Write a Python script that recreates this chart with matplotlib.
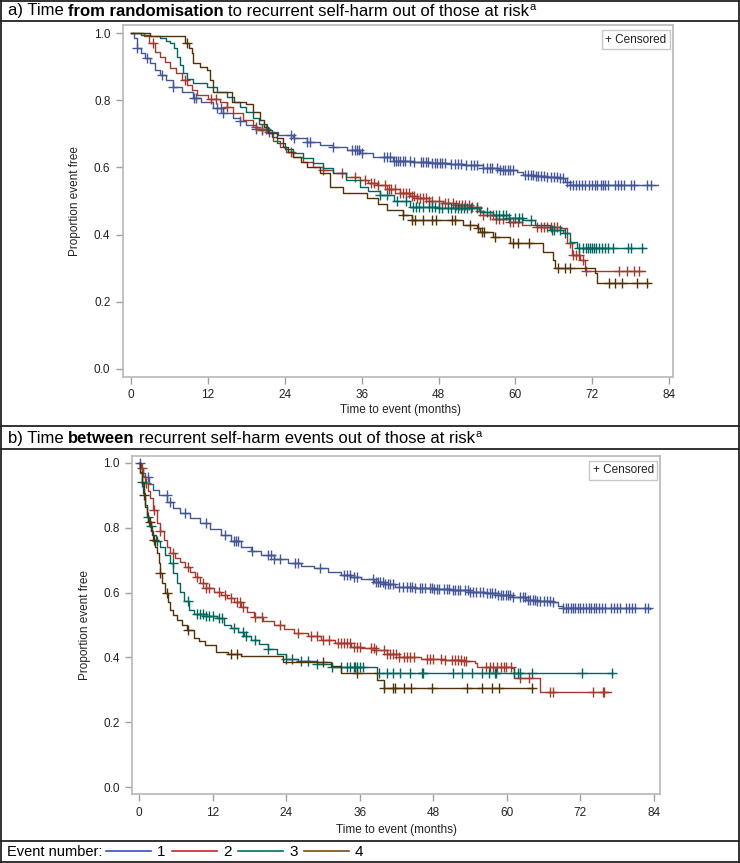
import matplotlib
matplotlib.use('Agg')
import matplotlib.pyplot as plt
import numpy as np

W, H = 740, 863
NARROW = ['Liberation Sans', 'DejaVu Sans']
REGULAR = ['Liberation Sans', 'DejaVu Sans']

groups = ['1', '2', '3', '4']
line_colors = ['#445694', '#A23A2E', '#01665E', '#543005']
legend_colors = ['#3050c0', '#c02828', '#007060', '#7a4a10']
xticks = [0, 12, 24, 36, 48, 60, 72, 84]
yticks = [0.0, 0.2, 0.4, 0.6, 0.8, 1.0]

# ---- panel a: time from randomisation ----
a1_t = [0, 0.5, 0.9, 1.5, 2.2, 3, 3.8, 4.5, 5.5, 6.6, 8, 9.7, 11, 12.8, 14.3, 15.9, 17, 18, 19.5, 21.2,
        23, 25.3, 27.5, 29.5, 31.5, 33.7, 35.7, 37.8, 40.9, 44, 47, 49.8, 52, 54.9, 57.5, 60.2, 61.2, 63,
        65, 66.9, 67.8, 68.5, 82.2]
a1_s = [1.0, 0.985, 0.955, 0.94, 0.925, 0.91, 0.89, 0.875, 0.86, 0.84, 0.825, 0.807, 0.795, 0.777, 0.762,
        0.747, 0.737, 0.726, 0.715, 0.705, 0.697, 0.687, 0.677, 0.667, 0.66, 0.652, 0.643, 0.631, 0.619,
        0.616, 0.614, 0.611, 0.606, 0.598, 0.592, 0.586, 0.577, 0.574, 0.571, 0.568, 0.558, 0.548, 0.548]
a1_c = [1.0, 2.5, 4.8, 6.6, 9.8, 10.2, 13.5, 14.0, 14.3, 17.0, 19.5, 20.5, 21, 21.5, 25, 25.4, 27.5, 28,
        31.5, 34.5, 35, 35.3, 35.6, 36.0, 39.5, 40, 40.5, 41, 41.3, 41.6, 42, 42.4, 42.8, 43.5, 44.2, 45.2,
        45.6, 46, 46.4, 47, 47.4, 47.8, 48.2, 48.6, 49, 50, 50.5, 51, 51.5, 52.3, 53, 53.5, 54, 55, 55.5,
        56, 56.4, 57.2, 57.6, 58, 58.4, 58.8, 59.2, 59.6, 61.5, 62, 62.4, 62.8, 63.2, 63.6, 64, 64.4, 65,
        65.5, 66, 66.5, 67, 67.4, 68, 68.6, 69, 69.5, 70, 70.4, 70.8, 71.5, 72, 72.4, 72.8, 73.3, 73.7, 74,
        74.5, 75.5, 76, 76.5, 77, 78, 78.5, 80.5, 81.2]

a2_t = [0, 2.0, 2.8, 3.7, 4.5, 5.3, 6.1, 7.0, 8.0, 8.7, 9.5, 10.3, 12, 13.9, 15, 15.9, 17.5, 19, 20, 21.2,
        22.2, 23.2, 24.2, 25.3, 26.8, 28.4, 30, 31.5, 33.5, 35.7, 37, 38.4, 40, 42, 43.5, 44.6, 46.5, 48.7,
        50.5, 52.9, 54.3, 54.9, 57, 59.1, 61, 63.3, 66.9, 68, 68.8, 70.1, 70.9, 80.2]
a2_s = [1.0, 0.99, 0.97, 0.943, 0.93, 0.915, 0.896, 0.88, 0.86, 0.845, 0.83, 0.815, 0.805, 0.795, 0.78,
        0.762, 0.74, 0.72, 0.71, 0.702, 0.68, 0.661, 0.645, 0.631, 0.617, 0.601, 0.592, 0.583, 0.572, 0.562,
        0.555, 0.548, 0.535, 0.524, 0.515, 0.509, 0.5, 0.494, 0.488, 0.482, 0.47, 0.458, 0.447, 0.438, 0.43,
        0.423, 0.42, 0.375, 0.339, 0.324, 0.292, 0.292]
a2_c = [3.5, 8.5, 12.5, 13.2, 15, 19.5, 20.5, 25, 30, 33, 35, 36.5, 37.5, 38, 38.5, 39.7, 40.2, 40.6, 41.2,
        42, 42.5, 43, 43.4, 43.8, 44.2, 44.6, 45.1, 45.5, 46, 46.5, 47, 48, 49, 49.5, 50.2, 50.7, 51.2, 51.7,
        52.2, 52.8, 53.3, 54, 54.5, 55, 56, 56.5, 57, 57.5, 58, 59.2, 59.7, 60.4, 63.4, 64, 64.5, 65, 65.5,
        66, 66.5, 68.6, 69, 69.5, 70, 70.5, 71, 76.2, 77.4, 78.5, 79.3]

a3_t = [0, 1.5, 3.0, 4.5, 5.5, 6.1, 6.7, 7.2, 7.7, 8.1, 8.8, 9.7, 11.9, 13.5, 15, 16, 17, 18, 19, 20, 21.2,
        22, 22.8, 24, 25.3, 26.8, 28.4, 30, 31.5, 33.5, 35.7, 37, 38.8, 41, 43.5, 48, 52.4, 54.5, 56.5, 59,
        61.2, 63, 65.4, 67.4, 68.5, 69.6, 80.2]
a3_s = [1.0, 0.995, 0.99, 0.985, 0.975, 0.97, 0.955, 0.929, 0.905, 0.88, 0.862, 0.851, 0.84, 0.825, 0.81,
        0.795, 0.78, 0.765, 0.747, 0.73, 0.711, 0.69, 0.673, 0.655, 0.643, 0.628, 0.613, 0.598, 0.583, 0.562,
        0.542, 0.53, 0.518, 0.5, 0.482, 0.48, 0.479, 0.468, 0.458, 0.45, 0.443, 0.43, 0.414, 0.405, 0.378,
        0.36, 0.36]
a3_c = [38.9, 40, 41.5, 43, 44, 44.5, 45, 45.5, 46.5, 47, 47.5, 48, 48.5, 49.5, 50, 50.5, 51, 51.5, 52, 52.5,
        53, 54, 55.5, 57, 57.5, 58, 58.5, 59, 60, 60.5, 61, 62.5, 65.7, 66, 67, 67.8, 70, 70.5, 71, 71.3,
        71.6, 72, 72.3, 72.6, 73, 73.5, 74, 74.5, 75.3, 77.5, 78, 79.8]

a4_t = [0, 3.0, 8.4, 9.0, 9.5, 9.6, 10.8, 11.9, 12.4, 12.8, 15.8, 18, 19, 20.1, 20.8, 21.4, 22.8, 23.7, 24.5,
        25.3, 26.5, 27.5, 29.5, 31, 33.1, 36.8, 38.5, 40, 42.5, 43.8, 51.8, 54, 54.5, 56.5, 59.1, 64.3, 65.8,
        66.2, 72.4, 72.7, 80.7]
a4_s = [1.0, 0.99, 0.97, 0.955, 0.94, 0.91, 0.9, 0.89, 0.86, 0.824, 0.795, 0.79, 0.765, 0.741, 0.72, 0.702,
        0.687, 0.661, 0.645, 0.631, 0.615, 0.601, 0.583, 0.542, 0.524, 0.509, 0.49, 0.473, 0.458, 0.443,
        0.429, 0.42, 0.408, 0.393, 0.375, 0.348, 0.324, 0.3, 0.286, 0.256, 0.256]
a4_c = [8.7, 42.5, 43.9, 44.3, 45.5, 47, 47.6, 50.1, 50.6, 52.9, 54.2, 54.8, 55.1, 56.8, 59.6, 60.4, 62.2,
        66.6, 67.7, 68.5, 74.6, 75.6, 76.7, 79, 80.6]

# ---- panel b: time between events ----
b1_t = [0, 0.3, 0.6, 1.0, 1.6, 2.3, 3.3, 4.6, 5.6, 6.7, 8.3, 10, 11.6, 13.3, 15, 16.6, 18.2, 19.9, 22, 24.3,
        26.5, 28.6, 30.8, 33, 34.6, 36.3, 38.4, 40, 41.7, 45, 48, 51.1, 54, 56.5, 58.5, 60.9, 63.1, 65, 67.5,
        68.3, 69.1, 83.4]
b1_s = [1.0, 0.985, 0.97, 0.957, 0.935, 0.917, 0.9, 0.88, 0.862, 0.846, 0.83, 0.815, 0.797, 0.778, 0.76,
        0.741, 0.728, 0.716, 0.703, 0.691, 0.683, 0.676, 0.665, 0.654, 0.648, 0.643, 0.633, 0.625, 0.617,
        0.613, 0.61, 0.608, 0.603, 0.599, 0.593, 0.586, 0.577, 0.574, 0.571, 0.56, 0.552, 0.549]
b1_c = [0.2, 1.5, 4.5, 5, 7.5, 11, 14, 15.5, 15.8, 16.2, 18.5, 21, 21.5, 22, 23, 25.5, 26, 29.5, 33.5, 34,
        34.5, 35, 35.5, 38.2, 38.6, 39, 39.4, 39.8, 40.2, 40.6, 41, 41.4, 42.5, 43, 43.8, 44.2, 44.6, 45,
        45.8, 46.2, 46.6, 47.4, 47.8, 48.2, 48.6, 49, 49.8, 50.2, 50.6, 51.2, 51.6, 52, 52.4, 53.2, 53.6, 54,
        54.5, 55, 55.6, 56.2, 56.8, 57.2, 57.6, 58, 58.5, 59, 59.4, 59.8, 60.2, 60.6, 61, 62.2, 62.6, 63,
        63.4, 63.8, 64.2, 64.6, 65, 65.4, 66, 66.5, 67, 67.5, 69.2, 69.6, 70, 70.4, 70.8, 71.2, 71.6, 72,
        72.5, 73, 73.4, 73.8, 74.2, 74.6, 75, 75.5, 76, 77, 77.5, 78, 78.4, 79.5, 80, 80.5, 81, 82.5, 83]

b2_t = [0, 0.2, 0.6, 1.0, 1.4, 1.8, 2.3, 2.9, 3.4, 4.0, 4.5, 5.1, 5.8, 6.7, 7.5, 8.4, 9.2, 10, 11, 12.2, 13.3,
        14.4, 15.5, 16.6, 17.7, 18.7, 20.3, 22, 23.6, 25.3, 27.5, 29.7, 32, 34.6, 36.3, 38.4, 40.4, 42.4, 46,
        49.9, 53, 54.8, 55.2, 60.9, 61.2, 65.4, 77.0]
b2_s = [1.0, 0.985, 0.96, 0.938, 0.915, 0.892, 0.855, 0.815, 0.79, 0.762, 0.742, 0.722, 0.708, 0.694, 0.679,
        0.664, 0.647, 0.63, 0.615, 0.602, 0.592, 0.583, 0.57, 0.556, 0.54, 0.525, 0.512, 0.5, 0.487, 0.475,
        0.465, 0.455, 0.445, 0.432, 0.429, 0.423, 0.412, 0.401, 0.396, 0.392, 0.388, 0.383, 0.37, 0.367,
        0.336, 0.293, 0.293]
b2_c = [0.5, 1.2, 2.5, 3.5, 5.5, 8, 9.5, 10.5, 11, 11.5, 13, 14, 15, 16, 16.5, 17, 19, 20, 23, 26, 28, 29,
        30, 31, 32.5, 33, 33.5, 34, 34.5, 35, 35.5, 36, 37.9, 38.3, 38.7, 39.9, 40.5, 41, 41.5, 42, 42.4,
        43.2, 43.7, 44.2, 44.8, 47, 47.5, 48, 49.3, 50, 51, 51.5, 52, 52.5, 53, 53.4, 56.6, 57.2, 57.8, 58.4,
        59, 59.5, 59.9, 60.7, 62.1, 63.7, 67, 67.5, 74, 75.7, 75.9]

b3_t = [0, 0.2, 0.5, 0.7, 1.0, 1.3, 1.7, 2.1, 2.7, 3.4, 4.2, 5.1, 5.6, 6.2, 6.7, 7.4, 8.1, 8.9, 11, 12.8,
        13.8, 15, 16.1, 17.2, 18.2, 19.5, 21, 22.5, 24, 26, 29, 31.5, 37.5, 38.8, 77.3]
b3_s = [1.0, 0.97, 0.94, 0.907, 0.87, 0.833, 0.805, 0.778, 0.76, 0.741, 0.716, 0.691, 0.66, 0.63, 0.602,
        0.575, 0.546, 0.534, 0.528, 0.522, 0.5, 0.49, 0.478, 0.466, 0.454, 0.44, 0.425, 0.41, 0.395, 0.388,
        0.38, 0.37, 0.37, 0.352, 0.352]
b3_c = [0.5, 1.5, 2, 3, 5.5, 8, 9.5, 10, 10.5, 11, 11.5, 12, 13, 13.5, 15.5, 17, 17.5, 19, 21, 24, 25, 26.5,
        27.5, 29, 31.5, 33, 34, 34.5, 35, 35.3, 35.6, 36, 36.5, 39.2, 40.4, 41.5, 42.6, 44.2, 46.1, 46.3,
        51.3, 52.7, 54.3, 56, 57.1, 58.1, 58.3, 61.1, 61.9, 62.2, 64.1, 72.3, 77.2]

b4_t = [0, 0.2, 0.5, 0.8, 1.0, 1.3, 1.5, 1.9, 2.3, 2.6, 2.9, 3.2, 3.4, 3.8, 4.3, 4.7, 5.1, 5.6, 6.2, 7, 7.9,
        8.9, 9.8, 10.8, 12.5, 14.5, 16.6, 23.5, 31.4, 33, 38.8, 39.9, 64.2]
b4_s = [1.0, 0.972, 0.938, 0.9, 0.864, 0.84, 0.818, 0.79, 0.762, 0.742, 0.722, 0.69, 0.66, 0.63, 0.599,
        0.572, 0.546, 0.53, 0.515, 0.5, 0.485, 0.46, 0.45, 0.438, 0.417, 0.41, 0.405, 0.385, 0.375, 0.352,
        0.33, 0.306, 0.306]
b4_c = [0.8, 1.8, 2.5, 3.5, 4.5, 8, 15, 16, 30, 35.6, 40.0, 41.5, 41.8, 43.2, 44.3, 47.8, 53.5, 56, 57.6,
        58.7, 64.1]

panel_a = [(a1_t, a1_s, a1_c), (a2_t, a2_s, a2_c), (a3_t, a3_s, a3_c), (a4_t, a4_s, a4_c)]
panel_b = [(b1_t, b1_s, b1_c), (b2_t, b2_s, b2_c), (b3_t, b3_s, b3_c), (b4_t, b4_s, b4_c)]


def px_box(l, t, r, b):
    return [l / W, 1 - b / H, (r - l) / W, (b - t) / H]


def km_panel(ax, curves, xlim, ylim):
    for (t, s, c), col in zip(curves, line_colors):
        t = np.array(t)
        s = np.array(s)
        ax.plot(t, s, drawstyle='steps-post', color=col, lw=1.0)
        c = np.array(c)
        idx = np.searchsorted(t, c, side='right') - 1
        ax.plot(c, s[idx], ls='none', marker='+', ms=6.5, mew=1.0, color=col)
    ax.set_xlim(*xlim)
    ax.set_ylim(*ylim)
    ax.set_xticks(xticks)
    ax.set_yticks(yticks)
    ax.set_yticklabels(['%.1f' % v for v in yticks])
    for sp in ax.spines.values():
        sp.set_color('#b8b8b8')
        sp.set_linewidth(1.2)
    ax.tick_params(color='#a0a0a0', length=5, width=1, labelsize=8.5, labelcolor='#222222', pad=4)
    for lab in ax.get_xticklabels() + ax.get_yticklabels():
        lab.set_family(NARROW)
    ax.text(0.988, 0.975, '+ Censored', transform=ax.transAxes, ha='right', va='top', fontsize=8.5,
            family=NARROW, color='#222222',
            bbox=dict(boxstyle='square,pad=0.3', fc='white', ec='#c8c8c8', lw=1))


fig = plt.figure(figsize=(W / 100, H / 100), dpi=100)

bg = fig.add_axes([0, 0, 1, 1])
bg.set_xlim(0, W)
bg.set_ylim(H, 0)
bg.axis('off')

for y in [0.7, 21, 426, 449, 841, 862.3]:
    bg.plot([0, W], [y, y], color='#222222', lw=1.3)
for x in [0.7, 738.5]:
    bg.plot([x, x], [0, H], color='#222222', lw=1.3)

ax_a = fig.add_axes(px_box(123, 25, 673, 377))
km_panel(ax_a, panel_a, (-1.25, 84.6), (-0.024, 1.024))
ax_b = fig.add_axes(px_box(132, 456, 660, 794))
km_panel(ax_b, panel_b, (-1.14, 85.0), (-0.0216, 1.0216))

bg.text(75, 201, 'Proportion event free', rotation=90, ha='center', va='center', fontsize=8.5,
        family=NARROW, color='#222222')
bg.text(400, 410, 'Time to event (months)', ha='center', va='center', fontsize=8.5,
        family=NARROW, color='#222222')
bg.text(85, 625, 'Proportion event free', rotation=90, ha='center', va='center', fontsize=8.5,
        family=NARROW, color='#222222')
bg.text(396, 830, 'Time to event (months)', ha='center', va='center', fontsize=8.5,
        family=NARROW, color='#222222')

renderer = fig.canvas.get_renderer()


def rich_line(x, y, parts):
    # each part: text, weight, size, vertical shift, gap added after it (px)
    for txt, weight, size, dy, gap in parts:
        t = bg.text(x, y + dy, txt, ha='left', va='center', fontsize=size, fontweight=weight,
                    family=REGULAR, color='black')
        bb = t.get_window_extent(renderer)
        x += bb.width + gap


rich_line(8, 11, [('a) Time', 'normal', 12, 0, 4.6), ('from randomisation', 'bold', 12, 0, 4.2),
                  ('to recurrent self-harm out of those at risk', 'normal', 12, 0, 0.5),
                  ('a', 'normal', 8, -4, 0)])
rich_line(8, 438, [('b) Time', 'normal', 12, 0, 4.6), ('between', 'bold', 12, 0, 4.2),
                   ('recurrent self-harm events out of those at risk', 'normal', 12, 0, 0.5),
                   ('a', 'normal', 8, -4, 0)])

bg.text(7, 852, 'Event number:', ha='left', va='center', fontsize=10.5, family=NARROW)
leg_x = [106, 172, 238, 304]
for gx, g, col in zip(leg_x, groups, legend_colors):
    bg.plot([gx, gx + 45], [851, 851], color=col, lw=1.2)
    bg.text(gx + 51, 852, g, ha='left', va='center', fontsize=11, family=NARROW)

fig.savefig('out.png', dpi=100)
